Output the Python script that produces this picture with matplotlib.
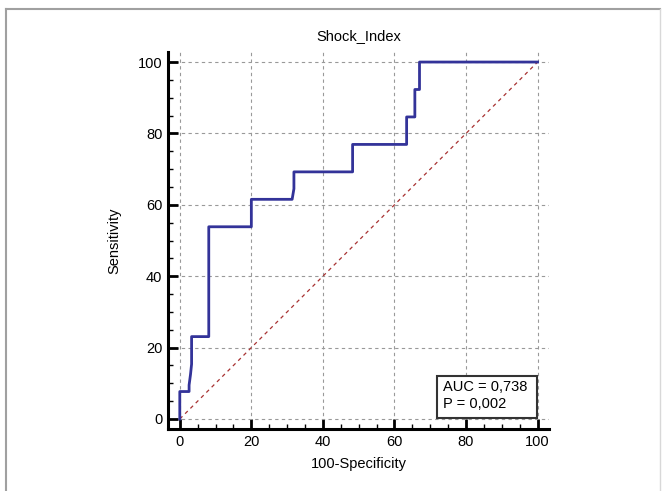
import matplotlib.pyplot as plt
from matplotlib.lines import Line2D
from matplotlib.patches import Rectangle
from matplotlib.ticker import MultipleLocator

# ROC curve points (100-Specificity, Sensitivity)
fpr = [0, 0, 2.6, 2.6, 3.0, 3.3, 3.3, 8.1, 8.1, 20, 20, 31.4, 31.9, 31.9,
       48.3, 48.3, 63.4, 63.4, 65.7, 65.7, 67.0, 67.0, 100]
tpr = [0, 7.69, 7.69, 9.5, 12.5, 15.38, 23.08, 23.08, 53.85, 53.85, 61.54, 61.54,
       64.5, 69.23, 69.23, 76.92, 76.92, 84.62, 84.62, 92.31, 92.31, 100, 100]
diag = [0, 100]
auc_text = "AUC = 0,738\nP = 0,002"
title = "Shock_Index"

plt.rcParams['font.family'] = ['Liberation Sans', 'DejaVu Sans']

fig = plt.figure(figsize=(6.65, 4.91), dpi=100)
ax = fig.add_axes([0.2526, 0.1263, 0.5730, 0.7677])

ax.plot(diag, diag, color='#a83232', lw=0.9, ls=(0, (3, 3)), zorder=2)
ax.plot(fpr, tpr, color='#333399', lw=2.0, zorder=3)

ax.set_xlim(-3.3, 103.2)
ax.set_ylim(-2.8, 102.8)
ax.xaxis.set_major_locator(MultipleLocator(20))
ax.yaxis.set_major_locator(MultipleLocator(20))
ax.xaxis.set_minor_locator(MultipleLocator(5))
ax.yaxis.set_minor_locator(MultipleLocator(5))
ax.grid(True, which='major', color='#999999', ls=(0, (3, 3)), lw=0.8, zorder=1)

for s in ['top', 'right']:
    ax.spines[s].set_visible(False)
for s in ['left', 'bottom']:
    ax.spines[s].set_linewidth(2.2)
ax.tick_params(which='major', direction='in', length=7, width=2, labelsize=10.5, pad=4)
ax.tick_params(which='minor', direction='in', length=3.5, width=1)

ax.set_title(title, fontsize=10.5, pad=9)
ax.set_xlabel("100-Specificity", fontsize=10.5, labelpad=6)
ax.set_ylabel("Sensitivity", fontsize=10.5, labelpad=12)

ax.add_patch(Rectangle((0.705, 0.028), 0.264, 0.113, transform=ax.transAxes,
                       fc='white', ec='#333333', lw=1.5, zorder=4))
ax.text(0.723, 0.088, auc_text, transform=ax.transAxes, fontsize=10.5,
        ha='left', va='center', linespacing=1.25, zorder=5)

# outer frame of the screenshot
fig.add_artist(Line2D([0.009, 0.993], [0.981, 0.981], color='#a0a0a0', lw=1.5))
fig.add_artist(Line2D([0.009, 0.009], [0.0, 0.981], color='#a0a0a0', lw=1.5))
fig.add_artist(Line2D([0.993, 0.993], [0.0, 0.981], color='#d8d8d8', lw=1))

fig.savefig("out.png", dpi=100)
